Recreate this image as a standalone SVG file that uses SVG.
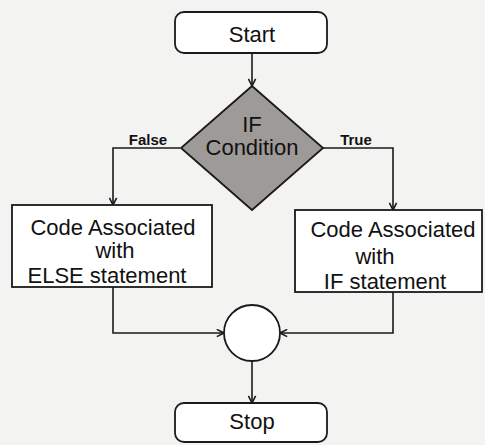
<svg xmlns="http://www.w3.org/2000/svg" width="485" height="445" viewBox="0 0 485 445">
<defs>
<marker id="arr" viewBox="0 0 10 10" refX="9" refY="5" markerWidth="9" markerHeight="9" markerUnits="userSpaceOnUse" orient="auto">
<path d="M1,1 L9,5 L1,9" fill="none" stroke="#1a1a1a" stroke-width="1.8"/>
</marker>
</defs>
<style>
.bg{fill:#f3f3f1}
.box{fill:#ffffff;stroke:#1a1a1a;stroke-width:1.8}
.dia{fill:#9e9a98;stroke:#1a1a1a;stroke-width:1.8}
.ln{fill:none;stroke:#1a1a1a;stroke-width:1.6;marker-end:url(#arr)}
.t{font-family:"Liberation Sans",Arial,sans-serif;font-size:22px;fill:#111;text-anchor:middle}
.lbl{font-family:"Liberation Sans",Arial,sans-serif;font-size:15px;font-weight:bold;fill:#111;text-anchor:middle}
</style>
<rect class="bg" x="0" y="0" width="485" height="445"/>
<g id="connectors">
<path class="ln" d="M252,53 L252,86"/>
<path class="ln" d="M180,148 L113,148 L113,205"/>
<path class="ln" d="M322,148 L393,148 L393,210"/>
<path class="ln" d="M113,287 L113,333 L224,333"/>
<path class="ln" d="M393,292 L393,333 L280,333"/>
<path class="ln" d="M252,361 L252,403"/>
<text class="lbl" x="148" y="145">False</text>
<text class="lbl" x="356" y="145">True</text>
</g>
<g id="start">
<rect class="box" x="175" y="12" width="152" height="41" rx="9"/>
<text class="t" x="252" y="42">Start</text>
</g>
<g id="condition">
<polygon class="dia" points="252,86 323,148 252,210 181,148"/>
<text class="t" x="252" y="132">IF</text>
<text class="t" x="252" y="155">Condition</text>
</g>
<g id="else-box">
<rect class="box" x="12" y="205" width="200" height="82"/>
<text class="t" x="113" y="235">Code Associated</text>
<text class="t" x="115" y="258">with</text>
<text class="t" x="107" y="283">ELSE statement</text>
</g>
<g id="if-box">
<rect class="box" x="295" y="210" width="187" height="82"/>
<text class="t" x="393" y="237">Code Associated</text>
<text class="t" x="375" y="264">with</text>
<text class="t" x="385" y="289">IF statement</text>
</g>
<g id="join">
<circle class="box" cx="252" cy="333" r="28"/>
</g>
<g id="stop">
<rect class="box" x="175" y="403" width="152" height="39" rx="9"/>
<text class="t" x="252" y="429">Stop</text>
</g>
</svg>
